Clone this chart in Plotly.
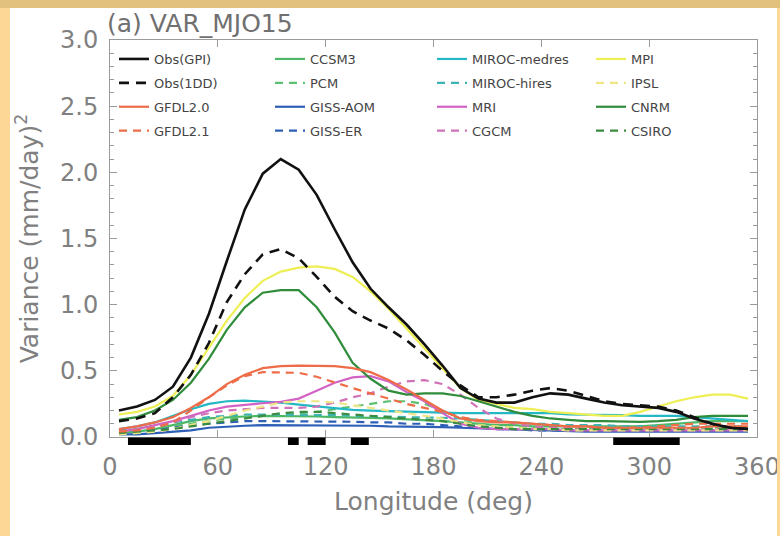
import plotly.graph_objects as go

# ---------------- data ----------------
lon = [5, 15, 25, 35, 45, 55, 65, 75, 85, 95, 105, 115, 125, 135, 145, 155, 165, 175,
       185, 195, 205, 215, 225, 235, 245, 255, 265, 275, 285, 295, 305, 315, 325, 335, 345, 355]

obs_gpi = [0.20, 0.23, 0.28, 0.38, 0.60, 0.93, 1.33, 1.72, 1.99, 2.10, 2.02, 1.83, 1.57, 1.32, 1.12, 0.98, 0.85, 0.70,
           0.54, 0.37, 0.29, 0.26, 0.26, 0.30, 0.33, 0.32, 0.29, 0.26, 0.24, 0.23, 0.22, 0.19, 0.14, 0.10, 0.07, 0.06]
obs_1dd = [0.12, 0.14, 0.18, 0.30, 0.47, 0.71, 1.02, 1.23, 1.38, 1.42, 1.35, 1.21, 1.06, 0.95, 0.88, 0.82, 0.73, 0.62,
           0.50, 0.39, 0.30, 0.30, 0.32, 0.35, 0.37, 0.35, 0.31, 0.27, 0.25, 0.24, 0.23, 0.20, 0.15, 0.10, 0.07, 0.06]
gfdl20 = [0.06, 0.08, 0.11, 0.15, 0.22, 0.30, 0.40, 0.47, 0.52, 0.535, 0.54, 0.54, 0.535, 0.52, 0.49, 0.43, 0.36, 0.28,
          0.20, 0.14, 0.12, 0.11, 0.11, 0.10, 0.09, 0.08, 0.08, 0.07, 0.07, 0.07, 0.07, 0.07, 0.07, 0.08, 0.08, 0.08]
gfdl21 = [0.04, 0.05, 0.07, 0.11, 0.20, 0.30, 0.39, 0.46, 0.49, 0.49, 0.485, 0.455, 0.41, 0.37, 0.33, 0.29, 0.25, 0.22,
          0.19, 0.15, 0.13, 0.12, 0.11, 0.10, 0.09, 0.08, 0.08, 0.07, 0.07, 0.07, 0.08, 0.09, 0.10, 0.10, 0.10, 0.10]
ccsm3 = [0.03, 0.04, 0.06, 0.09, 0.12, 0.14, 0.15, 0.155, 0.16, 0.16, 0.16, 0.155, 0.15, 0.15, 0.145, 0.14, 0.135, 0.13,
         0.12, 0.11, 0.10, 0.09, 0.09, 0.08, 0.08, 0.08, 0.08, 0.08, 0.08, 0.08, 0.09, 0.10, 0.11, 0.12, 0.12, 0.12]
pcm = [0.04, 0.05, 0.06, 0.08, 0.10, 0.12, 0.14, 0.15, 0.16, 0.17, 0.18, 0.19, 0.21, 0.23, 0.25, 0.27, 0.27, 0.25,
       0.20, 0.14, 0.10, 0.08, 0.07, 0.07, 0.06, 0.06, 0.06, 0.06, 0.06, 0.06, 0.06, 0.06, 0.06, 0.07, 0.07, 0.07]
giss_aom = [0.02, 0.02, 0.03, 0.04, 0.05, 0.07, 0.08, 0.085, 0.09, 0.09, 0.09, 0.09, 0.09, 0.085, 0.085, 0.08, 0.08, 0.08,
            0.075, 0.07, 0.065, 0.06, 0.055, 0.05, 0.05, 0.045, 0.04, 0.04, 0.04, 0.04, 0.04, 0.04, 0.04, 0.04, 0.04, 0.04]
giss_er = [0.03, 0.04, 0.05, 0.07, 0.09, 0.10, 0.11, 0.12, 0.12, 0.12, 0.12, 0.12, 0.12, 0.115, 0.11, 0.11, 0.10, 0.10,
           0.09, 0.08, 0.07, 0.06, 0.06, 0.05, 0.05, 0.05, 0.05, 0.05, 0.05, 0.05, 0.05, 0.05, 0.05, 0.05, 0.05, 0.05]
miroc_med = [0.06, 0.08, 0.11, 0.16, 0.21, 0.25, 0.27, 0.275, 0.27, 0.26, 0.245, 0.23, 0.215, 0.205, 0.20, 0.195, 0.19, 0.185,
             0.18, 0.18, 0.18, 0.18, 0.18, 0.18, 0.18, 0.17, 0.17, 0.17, 0.165, 0.16, 0.16, 0.16, 0.15, 0.14, 0.13, 0.12]
miroc_hi = [0.05, 0.06, 0.08, 0.11, 0.13, 0.15, 0.16, 0.17, 0.17, 0.17, 0.17, 0.17, 0.165, 0.16, 0.16, 0.155, 0.15, 0.15,
            0.145, 0.14, 0.13, 0.12, 0.11, 0.10, 0.10, 0.09, 0.09, 0.09, 0.08, 0.08, 0.08, 0.08, 0.08, 0.08, 0.08, 0.08]
mri = [0.04, 0.06, 0.09, 0.12, 0.16, 0.20, 0.23, 0.245, 0.255, 0.265, 0.29, 0.35, 0.41, 0.45, 0.46, 0.42, 0.34, 0.27,
       0.18, 0.10, 0.07, 0.06, 0.06, 0.06, 0.06, 0.05, 0.05, 0.05, 0.05, 0.05, 0.05, 0.05, 0.05, 0.05, 0.05, 0.05]
cgcm = [0.03, 0.05, 0.08, 0.11, 0.15, 0.18, 0.20, 0.21, 0.22, 0.22, 0.22, 0.23, 0.26, 0.30, 0.33, 0.38, 0.42, 0.43,
        0.40, 0.32, 0.22, 0.14, 0.10, 0.08, 0.07, 0.07, 0.06, 0.06, 0.06, 0.06, 0.06, 0.06, 0.06, 0.06, 0.06, 0.06]
mpi = [0.17, 0.19, 0.23, 0.31, 0.47, 0.67, 0.88, 1.05, 1.18, 1.25, 1.28, 1.29, 1.27, 1.21, 1.10, 0.97, 0.82, 0.67,
       0.52, 0.37, 0.28, 0.25, 0.22, 0.21, 0.19, 0.18, 0.17, 0.16, 0.16, 0.19, 0.23, 0.27, 0.30, 0.32, 0.32, 0.29]
ipsl = [0.02, 0.03, 0.04, 0.06, 0.09, 0.12, 0.16, 0.20, 0.23, 0.26, 0.27, 0.27, 0.26, 0.24, 0.22, 0.20, 0.18, 0.16,
        0.14, 0.11, 0.09, 0.08, 0.07, 0.06, 0.06, 0.05, 0.05, 0.05, 0.05, 0.05, 0.05, 0.05, 0.05, 0.05, 0.05, 0.05]
cnrm = [0.13, 0.15, 0.20, 0.28, 0.41, 0.59, 0.81, 0.98, 1.09, 1.11, 1.11, 0.98, 0.79, 0.56, 0.44, 0.35, 0.32, 0.33,
        0.33, 0.31, 0.27, 0.23, 0.19, 0.16, 0.14, 0.13, 0.12, 0.12, 0.115, 0.115, 0.12, 0.13, 0.15, 0.16, 0.16, 0.16]
csiro = [0.03, 0.04, 0.05, 0.06, 0.08, 0.10, 0.12, 0.14, 0.16, 0.18, 0.19, 0.19, 0.18, 0.17, 0.16, 0.15, 0.14, 0.13,
         0.12, 0.10, 0.08, 0.07, 0.06, 0.06, 0.06, 0.06, 0.06, 0.06, 0.06, 0.06, 0.06, 0.06, 0.06, 0.06, 0.06, 0.06]

# significance bars along the longitude axis (start, end in degrees)
sig_start = [10, 99, 110, 134, 280]
sig_end = [45, 105, 120, 144, 317]

x_ticks = [0, 60, 120, 180, 240, 300, 360]
y_ticks = [0.0, 0.5, 1.0, 1.5, 2.0, 2.5, 3.0]
y_ticklabels = ["0.0", "0.5", "1.0", "1.5", "2.0", "2.5", "3.0"]

# name, values, colour, dashed, legend column
series = [
    ("Obs(GPI)", obs_gpi, "#111111", False, 1),
    ("Obs(1DD)", obs_1dd, "#111111", True, 1),
    ("GFDL2.0", gfdl20, "#EE6C48", False, 1),
    ("GFDL2.1", gfdl21, "#EE6C48", True, 1),
    ("CCSM3", ccsm3, "#4CB866", False, 2),
    ("PCM", pcm, "#5CC070", True, 2),
    ("GISS-AOM", giss_aom, "#2C5FB5", False, 2),
    ("GISS-ER", giss_er, "#2C5FB5", True, 2),
    ("MIROC-medres", miroc_med, "#24B7C4", False, 3),
    ("MIROC-hires", miroc_hi, "#3DB3B0", True, 3),
    ("MRI", mri, "#D263C4", False, 3),
    ("CGCM", cgcm, "#CF72B8", True, 3),
    ("MPI", mpi, "#EEEE55", False, 4),
    ("IPSL", ipsl, "#EEE685", True, 4),
    ("CNRM", cnrm, "#2F8C3B", False, 4),
    ("CSIRO", csiro, "#3C8C40", True, 4),
]

# ---------------- geometry (pixels) ----------------
W, H = 780, 536
L, R, T, B = 110, 23, 40, 99
pw, ph = W - L - R, H - T - B


def px_x(p):
    return (p - L) / pw


def px_y(p):
    return (H - B - p) / ph


fig = go.Figure()

legend_names = {1: "legend", 2: "legend2", 3: "legend3", 4: "legend4"}
# draw models first, observations on top
order = list(range(4, 16)) + [2, 3, 0, 1]
for i in order:
    name, vals, col, dashed, c = series[i]
    is_obs = name.startswith("Obs")
    fig.add_trace(go.Scatter(
        x=lon, y=vals, mode="lines", name=name,
        line=dict(color=col, width=2.6 if is_obs else 2.2,
                  dash=("10px,7px" if is_obs else "8px,6px") if dashed else "solid"),
        legend=legend_names[c], legendrank=i + 1, legendgroup=name,
        showlegend=True,
    ))

for s, e in zip(sig_start, sig_end):
    fig.add_shape(type="rect", xref="x", yref="paper", x0=s, x1=e,
                  y0=px_y(445), y1=px_y(437.5), fillcolor="black", line=dict(width=0), layer="above")

# decorative frame bands (yellow border of the figure)
fig.add_shape(type="rect", xref="paper", yref="paper", x0=px_x(0), x1=px_x(W), y0=px_y(8), y1=px_y(0),
              fillcolor="#E2C07E", line=dict(width=0))
fig.add_shape(type="rect", xref="paper", yref="paper", x0=px_x(0), x1=px_x(10), y0=px_y(H), y1=px_y(8),
              fillcolor="#FDD795", line=dict(width=0))
fig.add_shape(type="rect", xref="paper", yref="paper", x0=px_x(777), x1=px_x(W), y0=px_y(H), y1=px_y(8),
              fillcolor="#FDD795", line=dict(width=0))

leg_common = dict(orientation="v", xanchor="left", yanchor="top", bgcolor="rgba(0,0,0,0)",
                  font=dict(family="DejaVu Sans", size=13, color="#444444"),
                  tracegroupgap=4, itemclick=False, itemdoubleclick=False)
col_x = {1: 114, 2: 270, 3: 432, 4: 591}
legend_top = 44
layout_legends = {}
for c, key in legend_names.items():
    layout_legends[key] = dict(leg_common, x=px_x(col_x[c]), y=px_y(legend_top))

tick_font = dict(family="DejaVu Sans", size=24, color="#808080")
axis_common = dict(showline=True, linecolor="#9a9a9a", linewidth=1, mirror="allticks",
                   ticks="inside", tickcolor="#9a9a9a", showgrid=False, zeroline=False,
                   tickfont=tick_font, automargin=False)

fig.update_layout(
    width=W, height=H, autosize=False,
    margin=dict(l=L, r=R, t=T, b=B, autoexpand=False),
    paper_bgcolor="white", plot_bgcolor="white",
    title=dict(text="(a) VAR_MJO15", x=107 / W, xanchor="left", xref="container",
               y=1 - 23 / H, yanchor="middle", yref="container",
               font=dict(family="DejaVu Sans", size=25, color="#707070")),
    xaxis=dict(axis_common, range=[0, 360], tickvals=x_ticks, ticklen=7,
               ticklabelstandoff=8, ticklabeloverflow="allow",
               title=dict(text="Longitude (deg)", standoff=12,
                          font=dict(family="DejaVu Sans", size=25, color="#808080"))),
    yaxis=dict(axis_common, range=[0, 3.0], tickvals=y_ticks, ticktext=y_ticklabels, ticklen=7,
               ticklabelstandoff=6,
               minor=dict(dtick=0.1, ticks="inside", ticklen=4, tickcolor="#9a9a9a"),
               title=dict(text="Variance (mm/day)<sup>2</sup>", standoff=14,
                          font=dict(family="DejaVu Sans", size=25, color="#808080"))),
    showlegend=True,
    **layout_legends,
)

fig.write_html(
    "out.html",
    config={"responsive": False, "displayModeBar": False},
    post_script="document.body.style.margin='0';document.body.style.overflow='hidden';"
                "document.documentElement.style.overflow='hidden';",
)
